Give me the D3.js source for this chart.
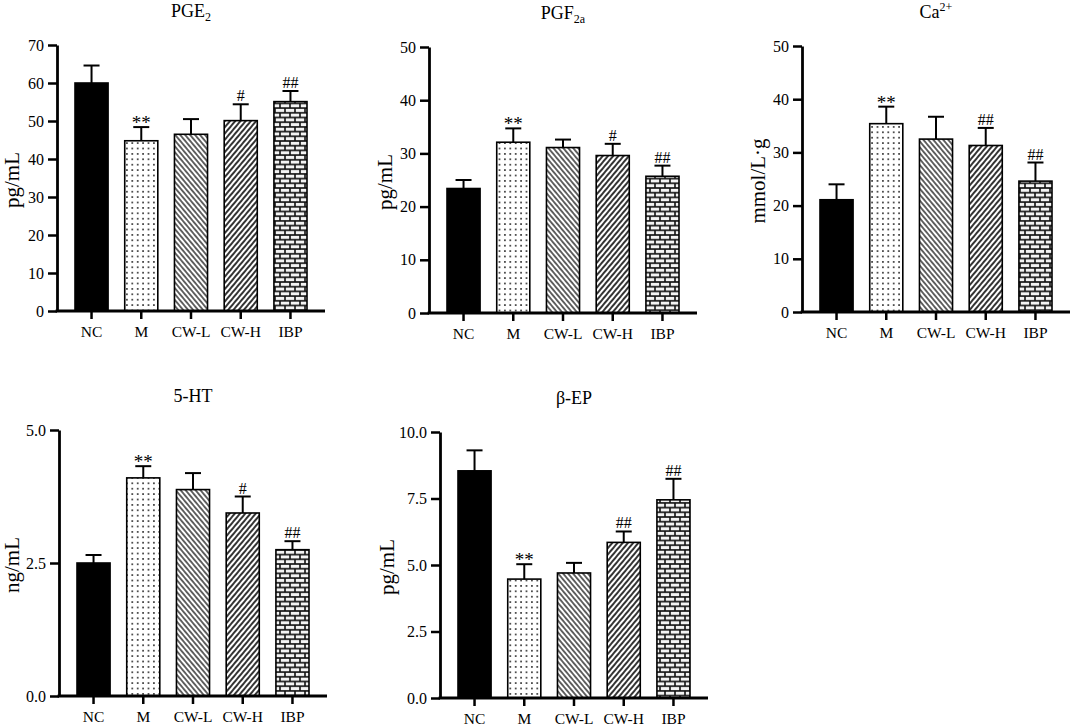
<!DOCTYPE html>
<html>
<head>
<meta charset="utf-8">
<script src="https://cdn.jsdelivr.net/npm/d3@7"></script>
<style>
  html, body { margin: 0; padding: 0; background: #fff; }
  svg text { font-family: "Liberation Serif", "Times New Roman", serif; fill: #000; }
</style>
</head>
<body>
<div id="chart"></div>
<script>
// groups shared by every panel
const groups = ['NC', 'M', 'CW-L', 'CW-H', 'IBP'];
const fills = ['solid', 'dots', 'diagBack', 'diagFwd', 'bricks'];

// PGE2 (pg/mL)
const pge2Mean = [60.0, 44.8, 46.5, 50.1, 55.1];
const pge2Err = [4.6, 3.6, 4.0, 4.3, 2.8];
const pge2Sig = ['', '**', '', '#', '##'];
const pge2Ticks = [0, 10, 20, 30, 40, 50, 60, 70];

// PGF2a (pg/mL)
const pgfMean = [23.4, 32.1, 31.1, 29.6, 25.7];
const pgfErr = [1.6, 2.6, 1.5, 2.2, 2.0];
const pgfSig = ['', '**', '', '#', '##'];
const pgfTicks = [0, 10, 20, 30, 40, 50];

// Ca2+ (mmol/L·g)
const caMean = [21.1, 35.4, 32.5, 31.3, 24.6];
const caErr = [2.9, 3.2, 4.2, 3.3, 3.5];
const caSig = ['', '**', '', '##', '##'];
const caTicks = [0, 10, 20, 30, 40, 50];

// 5-HT (ng/mL)
const htMean = [2.50, 4.10, 3.88, 3.44, 2.75];
const htErr = [0.15, 0.22, 0.31, 0.31, 0.16];
const htSig = ['', '**', '', '#', '##'];
const htTicks = [0, 2.5, 5.0];

// beta-EP (pg/mL)
const epMean = [8.54, 4.47, 4.70, 5.85, 7.45];
const epErr = [0.77, 0.56, 0.38, 0.41, 0.79];
const epSig = ['', '**', '', '##', '##'];
const epTicks = [0, 2.5, 5.0, 7.5, 10.0];

const panels = [
    { title: ['PGE', '2', 'sub'], unit: 'pg/mL', mean: pge2Mean, err: pge2Err, sig: pge2Sig, ticks: pge2Ticks, fmt: 'd' },
    { title: ['PGF', '2a', 'sub'], unit: 'pg/mL', mean: pgfMean, err: pgfErr, sig: pgfSig, ticks: pgfTicks, fmt: 'd' },
    { title: ['Ca', '2+', 'sup'], unit: 'mmol/L·g', mean: caMean, err: caErr, sig: caSig, ticks: caTicks, fmt: 'd' },
    { title: ['5-HT', '', ''], unit: 'ng/mL', mean: htMean, err: htErr, sig: htSig, ticks: htTicks, fmt: '.1f' },
    { title: ['β-EP', '', ''], unit: 'pg/mL', mean: epMean, err: epErr, sig: epSig, ticks: epTicks, fmt: '.1f' }
];

// where each panel sits: y-axis x, baseline y, y-title offset
const layout = [
    { x0: 57, y0: 311, lab: 45 },
    { x0: 429, y0: 313, lab: 44 },
    { x0: 802, y0: 312, lab: 44 },
    { x0: 59, y0: 696, lab: 47 },
    { x0: 440, y0: 698, lab: 53 }
];
const plotH = 266;
const axisLen = 268;

const svg = d3.select('#chart')
    .append('svg')
    .attr('width', 1072)
    .attr('height', 727);

svg.append('rect').attr('width', 1072).attr('height', 727).attr('fill', '#fff');

// fill patterns
const defs = svg.append('defs');

const dots = defs.append('pattern')
    .attr('id', 'dots')
    .attr('patternUnits', 'userSpaceOnUse')
    .attr('width', 5.4)
    .attr('height', 5.4);
dots.append('rect').attr('width', 5.4).attr('height', 5.4).attr('fill', '#fff');
dots.append('circle').attr('cx', 2.7).attr('cy', 2.7).attr('r', 0.95).attr('fill', '#222');

function stripes(id, angle, gap, width) {
    const p = defs.append('pattern')
        .attr('id', id)
        .attr('patternUnits', 'userSpaceOnUse')
        .attr('width', 10)
        .attr('height', gap)
        .attr('patternTransform', `rotate(${angle})`);
    p.append('rect').attr('width', 10).attr('height', gap).attr('fill', '#fff');
    p.append('line')
        .attr('x1', 0).attr('x2', 10)
        .attr('y1', gap / 2).attr('y2', gap / 2)
        .attr('stroke', '#000')
        .attr('stroke-width', width);
}
stripes('diagBack', 50, 3.8, 1.2);
stripes('diagFwd', -50, 4.0, 1.6);

const bricks = defs.append('pattern')
    .attr('id', 'bricks')
    .attr('patternUnits', 'userSpaceOnUse')
    .attr('width', 10)
    .attr('height', 9.4);
bricks.append('rect').attr('width', 10).attr('height', 9.4).attr('fill', '#111');
bricks.append('rect').attr('x', 0.8).attr('y', 0.8).attr('width', 8.4).attr('height', 3.1).attr('fill', '#f4f4f4');
bricks.append('rect').attr('x', -4.2).attr('y', 5.5).attr('width', 8.4).attr('height', 3.1).attr('fill', '#f4f4f4');
bricks.append('rect').attr('x', 5.8).attr('y', 5.5).attr('width', 8.4).attr('height', 3.1).attr('fill', '#f4f4f4');

panels.forEach((p, i) => {
    const { x0, y0, lab } = layout[i];
    const g = svg.append('g');

    const x = d3.scaleBand()
        .domain(groups)
        .range([x0 + 18, x0 + 250])
        .paddingInner(0.335)
        .paddingOuter(0);

    const yMax = p.ticks[p.ticks.length - 1];
    const y = d3.scaleLinear()
        .domain([0, yMax])
        .range([y0, y0 - plotH]);

    // bars
    g.selectAll('rect.bar')
        .data(p.mean)
        .enter()
        .append('rect')
        .attr('class', 'bar')
        .attr('x', (d, j) => x(groups[j]))
        .attr('y', (d) => y(d))
        .attr('width', x.bandwidth())
        .attr('height', (d) => y(0) - y(d))
        .attr('fill', (d, j) => (fills[j] === 'solid' ? '#000' : `url(#${fills[j]})`))
        .attr('stroke', '#000')
        .attr('stroke-width', 1.6);

    // error bars (upper only)
    const cx = (j) => x(groups[j]) + x.bandwidth() / 2;
    g.selectAll('line.err')
        .data(p.mean)
        .enter()
        .append('line')
        .attr('x1', (d, j) => cx(j))
        .attr('x2', (d, j) => cx(j))
        .attr('y1', (d) => y(d))
        .attr('y2', (d, j) => y(d + p.err[j]))
        .attr('stroke', '#000')
        .attr('stroke-width', 2);
    g.selectAll('line.cap')
        .data(p.mean)
        .enter()
        .append('line')
        .attr('x1', (d, j) => cx(j) - 8)
        .attr('x2', (d, j) => cx(j) + 8)
        .attr('y1', (d, j) => y(d + p.err[j]))
        .attr('y2', (d, j) => y(d + p.err[j]))
        .attr('stroke', '#000')
        .attr('stroke-width', 2);

    // significance marks
    g.selectAll('text.sig')
        .data(p.sig)
        .enter()
        .append('text')
        .attr('x', (d, j) => cx(j))
        .attr('y', (d, j) => y(p.mean[j] + p.err[j]) + (d.startsWith('*') ? 2 : -3))
        .attr('text-anchor', 'middle')
        .attr('font-size', d => (d.startsWith('*') ? 19 : 16))
        .text((d) => d);

    // y axis
    const yAxis = g.append('g')
        .attr('transform', `translate(${x0},0)`)
        .call(d3.axisLeft(y)
            .tickValues(p.ticks)
            .tickFormat(d3.format(p.fmt))
            .tickSize(9)
            .tickSizeOuter(0)
            .tickPadding(4));
    yAxis.select('.domain').attr('stroke-width', 2.8);
    yAxis.selectAll('.tick line').attr('stroke-width', 2.5);
    yAxis.selectAll('.tick text').attr('font-size', 16).style('font-family', '"Liberation Serif", serif');

    // x axis
    const xAxis = g.append('g')
        .attr('transform', `translate(0,${y0})`)
        .call(d3.axisBottom(x)
            .tickSize(8)
            .tickSizeOuter(0)
            .tickPadding(7));
    xAxis.select('.domain').remove();
    xAxis.append('line')
        .attr('x1', x0 - 1.4)
        .attr('x2', x0 + axisLen)
        .attr('stroke', '#000')
        .attr('stroke-width', 2.8);
    xAxis.selectAll('.tick line').attr('stroke-width', 2.5);
    xAxis.selectAll('.tick text').attr('font-size', 15.5).style('font-family', '"Liberation Serif", serif');

    // y axis title
    g.append('text')
        .attr('transform', `translate(${x0 - lab},${y0 - 131}) rotate(-90)`)
        .attr('text-anchor', 'middle')
        .attr('dominant-baseline', 'central')
        .attr('font-size', 21)
        .text(p.unit);

    // panel title
    const t = g.append('text')
        .attr('x', x0 + axisLen / 2)
        .attr('y', y0 - 294)
        .attr('text-anchor', 'middle')
        .attr('font-size', 18);
    t.append('tspan').text(p.title[0]);
    if (p.title[1]) {
        t.append('tspan')
            .attr('font-size', 12)
            .attr('dy', p.title[2] === 'sub' ? 4 : -7)
            .text(p.title[1]);
    }
});
</script>
</body>
</html>
